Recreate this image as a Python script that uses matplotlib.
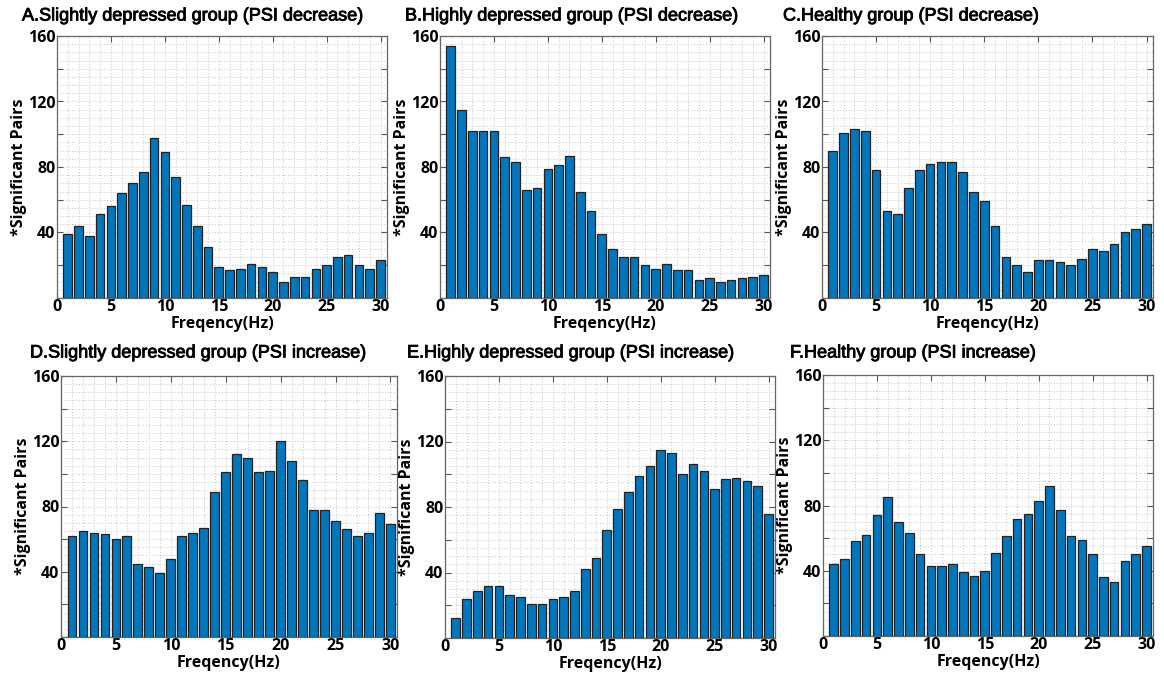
import numpy as np
import matplotlib
matplotlib.use('Agg')
import matplotlib.pyplot as plt
import matplotlib.patheffects as pe
from matplotlib.ticker import MultipleLocator, FixedLocator, FixedFormatter

freq = np.arange(1, 31)

# significant pair counts per frequency
slight_dec = [39, 44, 38, 51, 56, 64, 70, 77, 98, 89, 74, 57, 44, 31, 19,
              17, 18, 21, 19, 16, 10, 13, 13, 18, 20, 25, 26, 20, 18, 23]
high_dec = [154, 115, 102, 102, 102, 86, 83, 66, 67, 79, 81, 87, 65, 53, 39,
            30, 25, 25, 20, 18, 21, 17, 17, 11, 12, 10, 11, 12, 13, 14]
healthy_dec = [90, 101, 103, 102, 78, 53, 51, 67, 78, 82, 83, 83, 77, 65, 59,
               44, 25, 20, 16, 23, 23, 22, 20, 24, 30, 29, 33, 40, 42, 45]
slight_inc = [62, 65, 64, 63, 60, 62, 45, 43, 39, 48, 62, 64, 67, 89, 101,
              112, 110, 101, 102, 120, 108, 96, 78, 78, 71, 66, 62, 64, 76, 69]
high_inc = [12, 24, 29, 32, 32, 26, 25, 21, 21, 24, 25, 29, 42, 49, 66,
            79, 89, 99, 105, 115, 113, 100, 106, 102, 91, 97, 98, 96, 93, 76]
healthy_inc = [44, 47, 58, 62, 74, 85, 70, 63, 50, 43, 43, 44, 39, 37, 40,
               51, 61, 72, 75, 83, 92, 77, 61, 59, 50, 36, 33, 46, 50, 55]

titles = ['A.Slightly depressed group (PSI decrease)',
          'B.Highly depressed group (PSI decrease)',
          'C.Healthy group (PSI decrease)',
          'D.Slightly depressed group (PSI increase)',
          'E.Highly depressed group (PSI increase)',
          'F.Healthy group (PSI increase)']
series = [slight_dec, high_dec, healthy_dec, slight_inc, high_inc, healthy_inc]

W, H = 1164, 677
# axes boxes in pixels: left, right, top, bottom ; title x, title y
boxes = [(57, 387, 36, 298, 22, 16),
         (440, 770, 36, 298, 405, 16),
         (822, 1153, 36, 298, 783, 16),
         (61, 397, 376, 637, 30, 353),
         (445, 775, 376, 638, 407, 353),
         (823, 1153, 375, 636, 790, 353)]

tick_font = dict(family='Open Sans', weight='bold', size=11.5)

fig = plt.figure(figsize=(W / 100, H / 100), dpi=100)

for vals, title, (l, r, t, b, tx, ty) in zip(series, titles, boxes):
    ax = fig.add_axes([l / W, 1 - b / H, (r - l) / W, (b - t) / H])
    ax.bar(freq, vals, width=0.8, color='#0077BD', edgecolor='#222222',
           linewidth=0.9, zorder=3)
    ax.set_xlim(0, 30.6)
    ax.set_ylim(0, 160)

    ax.xaxis.set_major_locator(MultipleLocator(5))
    ax.xaxis.set_minor_locator(MultipleLocator(1))
    yt = np.arange(0, 161, 20)
    ax.yaxis.set_major_locator(FixedLocator(yt))
    ax.yaxis.set_major_formatter(FixedFormatter(
        [str(v) if v % 40 == 0 and v > 0 else '' for v in yt]))
    ax.yaxis.set_minor_locator(MultipleLocator(5))

    ax.grid(which='both', linestyle=(0, (1, 2)), color='#c4c4c4',
            linewidth=0.7, zorder=0)
    ax.set_axisbelow(True)
    ax.tick_params(which='major', direction='in', length=4, color='#555555',
                   top=True, right=True, pad=1)
    ax.tick_params(which='minor', length=0)
    for lab in ax.get_xticklabels() + ax.get_yticklabels():
        lab.set_fontproperties(tick_font)
    for s in ax.spines.values():
        s.set_color('#666666')
        s.set_linewidth(0.9)

    ax.set_xlabel('Freqency(Hz)', family='Open Sans', weight='bold', size=11.5)
    ax.xaxis.set_label_coords(0.5, -26 / (b - t))
    ax.xaxis.label.set_va('center')
    ax.set_ylabel('*Significant Pairs', family='Open Sans', weight='bold', size=11.5)
    ax.yaxis.set_label_coords(-38 / (r - l), 0.5)
    ax.yaxis.label.set_va('center')

    fig.text(tx / W, 1 - ty / H, title, family='Liberation Sans', size=13,
             ha='left', va='center',
             path_effects=[pe.withStroke(linewidth=0.6, foreground='black')])

fig.savefig('out.png', dpi=100, facecolor='white')
